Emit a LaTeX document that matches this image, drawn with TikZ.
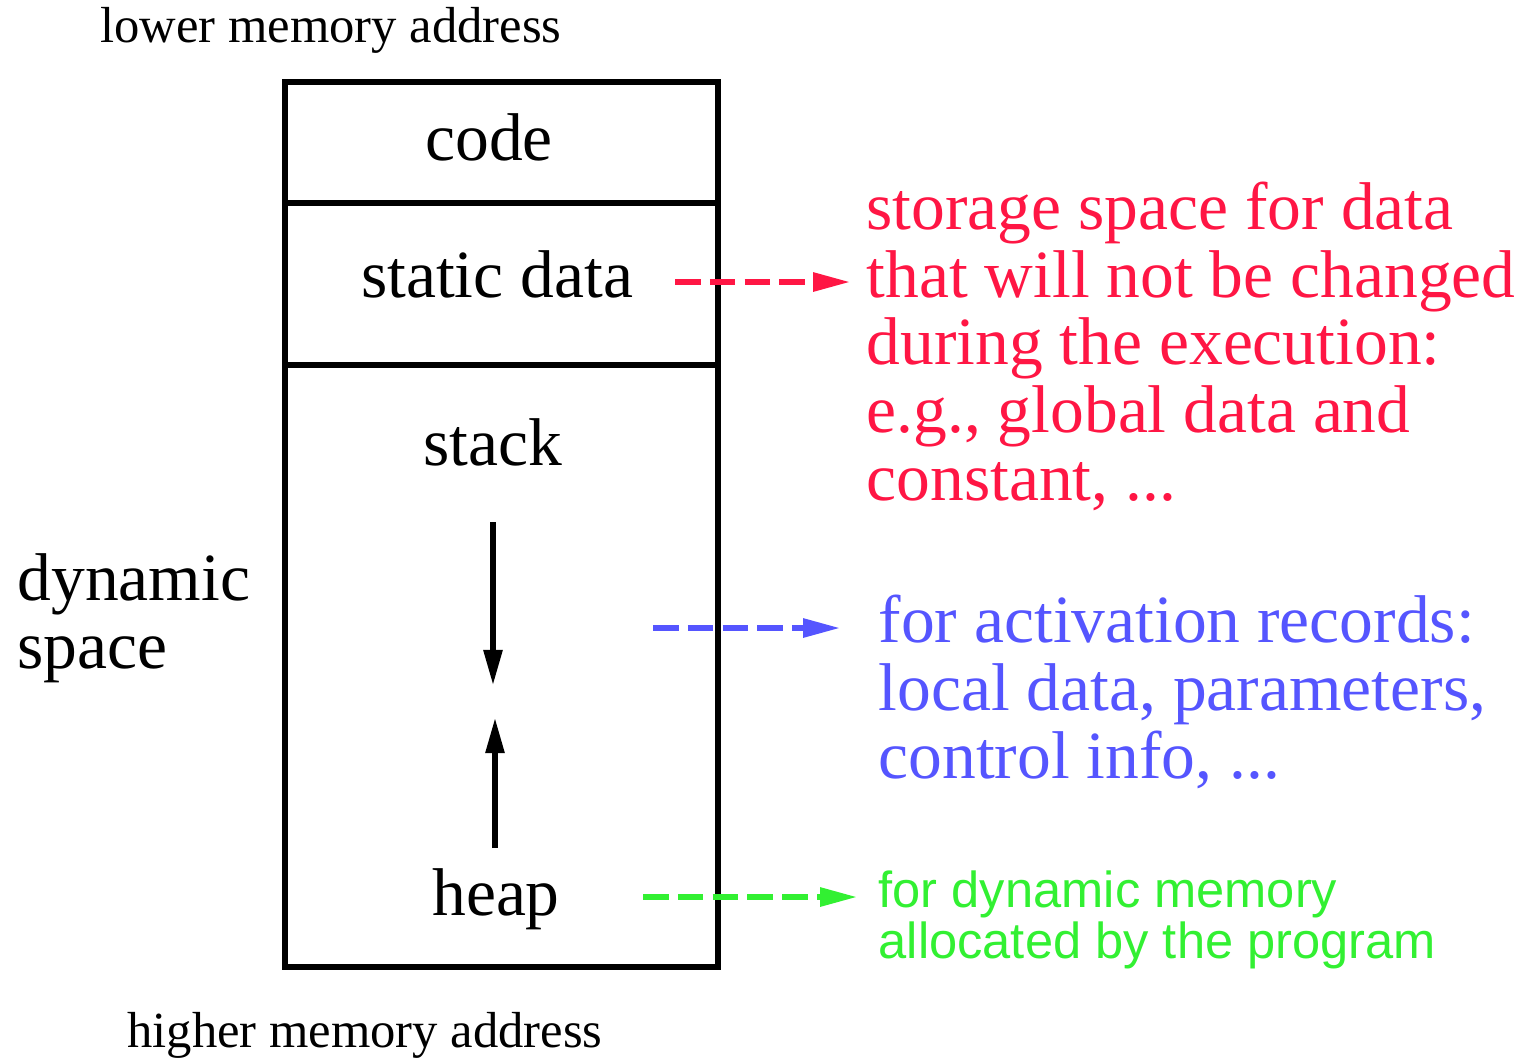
\documentclass[tikz,border=0pt]{standalone}
\usepackage{fontspec}
\setmainfont{Liberation Serif}
\setsansfont{Liberation Sans}
\usepackage{tikz}
\usetikzlibrary{arrows.meta, positioning}
\definecolor{staticred}{RGB}{255,22,68}
\definecolor{stackblue}{RGB}{85,85,255}
\definecolor{heapgreen}{RGB}{50,240,50}
\tikzstyle{wall} = [line width=1.45pt, draw=black]
\tikzstyle{cellname} = [inner sep=0pt, font=\fontsize{19.2}{19.2}\selectfont]
\tikzstyle{addrname} = [inner sep=0pt, font=\fontsize{14.4}{14.4}\selectfont]
\tikzstyle{note} = [inner sep=0pt, align=left, anchor=base west, font=\fontsize{19.2}{19.2}\selectfont]
\tikzstyle{growarrow} = [line width=1.45pt, -{Triangle[length=10pt,width=5.2pt]}]
\tikzstyle{pointer} = [line width=1.45pt, dash pattern=on 7.3pt off 2.6pt, -{Triangle[length=10.5pt,width=5.2pt]}]

\begin{document}
\begin{tikzpicture}[x=0.01cm, y=-0.01cm]
    \useasboundingbox (0,0) rectangle (1526,1059);

    % memory layout
    \draw [wall] (285,82) rectangle (718,967);
    \draw [wall] (288,203) -- (718,203);
    \draw [wall] (288,365) -- (718,365);

    \node (lower) [addrname, anchor=base] at (331,42) {lower memory address};
    \node (higher) [addrname, anchor=base] at (365,1047) {higher memory address};
    \node (code) [cellname, anchor=base] at (489,160) {code};
    \node (static) [cellname, anchor=base] at (497,297) {static data};
    \node (stack) [cellname, anchor=base] at (493,465) {stack};
    \node (heap) [cellname, anchor=base] at (496,915) {heap};
    % base anchor sits on the last line
    \node (dyn) [note] at (17,668) {dynamic\\space};

    % growth of stack and heap
    \coordinate (stacktip) at (493,685);
    \coordinate (heaptip) at (495,718);
    \draw [growarrow] (493,522) -- (stacktip);
    \draw [growarrow] (495,848) -- (heaptip);

    % explanations
    \node (staticnote) [note, text=staticred] at (866,500)
        {storage space for data\\that will not be changed\\during the execution:\\e.g., global data and\\constant, ...};
    \node (stacknote) [note, text=stackblue] at (878,778)
        {for activation records:\\local data, parameters,\\control info, ...};
    \node (heapnote) [note, text=heapgreen, font=\sffamily\fontsize{14.4}{14.5}\selectfont] at (878,958)
        {for dynamic memory\\allocated by the program};

    \coordinate (staticend) at (850,282);
    \coordinate (stackend) at (840,628);
    \coordinate (heapend) at (857,897);
    \draw [pointer, staticred] (675,282) -- (staticend);
    \draw [pointer, stackblue] (653,628) -- (stackend);
    \draw [pointer, heapgreen] (643,897) -- (heapend);
\end{tikzpicture}
\end{document}
